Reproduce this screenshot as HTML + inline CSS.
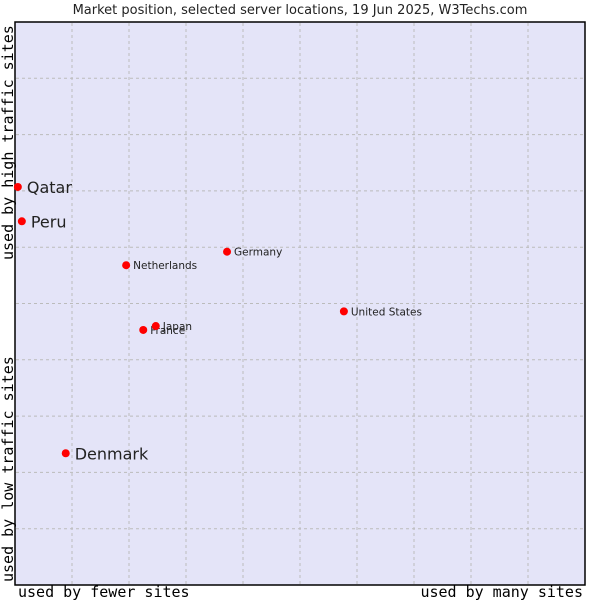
<!DOCTYPE html>
<html><head><meta charset="utf-8"><style>
body{margin:0;background:#fff}
svg{display:block}
text{font-family:"DejaVu Sans","Liberation Sans",sans-serif;fill:#222}
.mono{font-family:"DejaVu Sans Mono","Liberation Mono",monospace;fill:#000;font-size:15px}
</style></head><body>
<svg id="chart" width="600" height="600">
<text x="300" y="14" text-anchor="middle" font-size="13">Market position, selected server locations, 19 Jun 2025, W3Techs.com</text>
<rect x="15" y="22" width="570" height="563" fill="#e4e4f8" stroke="#000" stroke-width="1.5"/>
<g id="grid"></g>
<g id="points"></g>
<text class="mono" x="18" y="597">used by fewer sites</text>
<text class="mono" x="583" y="597" text-anchor="end">used by many sites</text>
<text class="mono" transform="translate(13,260) rotate(-90)">used by high traffic sites</text>
<text class="mono" transform="translate(13,582) rotate(-90)">used by low traffic sites</text>
</svg>
<script>
const names=["Qatar","Peru","Denmark","Netherlands","Germany","France","Japan","United States"];
const xVals=[0.5,1.2,8.9,19.5,37.2,22.5,24.7,57.7];
const yVals=[70.7,64.6,23.4,56.8,59.2,45.3,46.0,48.6];
const big=[true,true,true,false,false,false,false,false];
const X0=15,W=570,Y0=585,H=563;
const sx=v=>X0+v/100*W, sy=v=>Y0-v/100*H;
const ns="http://www.w3.org/2000/svg";
const g=document.getElementById('grid'),p=document.getElementById('points');
for(let i=1;i<10;i++){
 const l=document.createElementNS(ns,'line');
 
 
 l.setAttribute('x1',sx(i*10));l.setAttribute('x2',sx(i*10));l.setAttribute('y1',23);l.setAttribute('y2',584);
 l.setAttribute('stroke','#bbb');l.setAttribute('stroke-dasharray','3,3');g.appendChild(l);
 const h=document.createElementNS(ns,'line');
 
 
 h.setAttribute('x1',16);h.setAttribute('x2',584);h.setAttribute('y1',sy(i*10));h.setAttribute('y2',sy(i*10));
 h.setAttribute('stroke','#bbb');h.setAttribute('stroke-dasharray','3,3');g.appendChild(h);
}
names.forEach((n,i)=>{
 const cx=sx(xVals[i]),cy=sy(yVals[i]);
 const c=document.createElementNS(ns,'circle');
 
 
 c.setAttribute('cx',cx);c.setAttribute('cy',cy);c.setAttribute('r',4);c.setAttribute('fill','#f00');p.appendChild(c);
 const t=document.createElementNS(ns,'text');
 
 
 t.setAttribute('x',cx+(big[i]?9:7));t.setAttribute('y',cy+(big[i]?6:4));
 t.setAttribute('font-size',big[i]?16:10.5);t.textContent=n;p.appendChild(t);
});
</script>
</body></html>
